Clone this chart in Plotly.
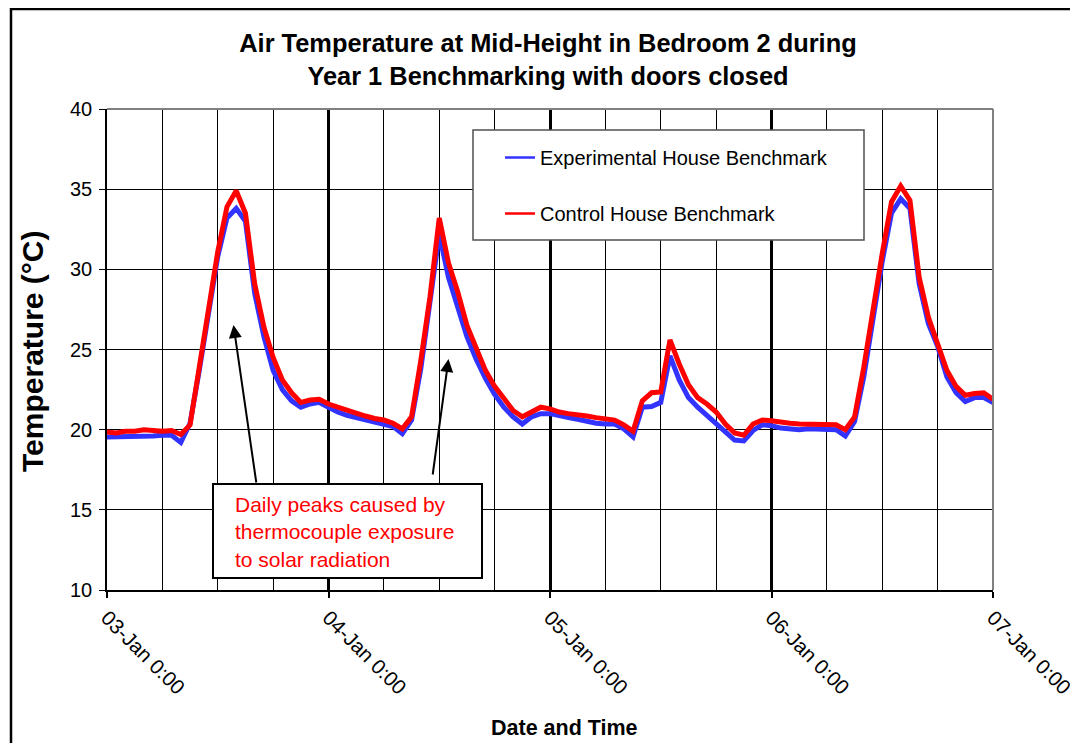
import plotly.graph_objects as go
import pandas as pd

# Hourly readings, 03-Jan 0:00 to 07-Jan 0:00 (97 samples)
start_time = "2005-01-03 00:00"
n_samples = 97

experimental = [
    19.55, 19.55, 19.6, 19.6, 19.6, 19.6, 19.65, 19.65, 19.2, 20.4, 23.7, 27.5,
    30.8, 33.2, 33.8, 33.0, 28.5, 25.8, 23.7, 22.5, 21.8, 21.4, 21.6, 21.7,
    21.4, 21.1, 20.9, 20.75, 20.6, 20.5, 20.35, 20.2, 19.75, 20.6, 23.8, 27.8,
    32.2, 29.5, 27.7, 25.8, 24.4, 23.2, 22.2, 21.4, 20.8, 20.35, 20.8, 21.0,
    21.0, 20.85, 20.75, 20.65, 20.5, 20.4, 20.35, 20.35, 20.05, 19.55, 21.4, 21.45,
    21.7, 24.6, 23.1, 22.0, 21.4, 20.9, 20.4, 19.8, 19.35, 19.3, 19.95, 20.3,
    20.25, 20.1, 20.05, 20.0, 20.05, 20.05, 20.0, 20.0, 19.6, 20.5, 23.3, 27.0,
    30.5, 33.5, 34.4, 33.8, 29.1, 26.6, 25.2, 23.3, 22.3, 21.75, 22.0, 22.0,
    21.7,
]

control = [
    19.85, 19.8, 19.9, 19.9, 20.0, 19.95, 19.9, 19.95, 19.7, 20.3, 24.0, 27.8,
    31.1, 33.9, 34.9, 33.5, 29.1, 26.4, 24.5, 23.1, 22.3, 21.7, 21.85, 21.9,
    21.6, 21.4, 21.2, 21.0, 20.85, 20.7, 20.6, 20.4, 20.05, 20.8, 24.3, 28.3,
    33.2, 30.4, 28.6, 26.5, 25.1, 23.7, 22.7, 21.9, 21.2, 20.8, 21.1, 21.4,
    21.3, 21.1, 21.0, 20.95, 20.85, 20.75, 20.65, 20.6, 20.3, 19.9, 21.8, 22.3,
    22.35, 25.6, 24.1, 22.8, 22.0, 21.6, 21.1, 20.35, 19.8, 19.65, 20.35, 20.6,
    20.55, 20.45, 20.4, 20.35, 20.35, 20.35, 20.3, 20.3, 20.0, 20.8, 23.9, 27.5,
    31.0, 34.2, 35.2, 34.3, 29.5, 27.0, 25.3, 23.7, 22.7, 22.15, 22.25, 22.3,
    21.9,
]

tick_vals = ["2005-01-03", "2005-01-04", "2005-01-05", "2005-01-06", "2005-01-07"]
tick_text = ["03-Jan 0:00", "04-Jan 0:00", "05-Jan 0:00", "06-Jan 0:00", "07-Jan 0:00"]

series_names = ["Experimental House Benchmark", "Control House Benchmark"]
series_colors = ["#3333FF", "#FF0000"]

times = pd.date_range(start_time, periods=n_samples, freq="h")

fig = go.Figure()
for vals, name, col in zip([experimental, control], series_names, series_colors):
    fig.add_trace(go.Scatter(x=times, y=vals, mode="lines", name=name,
                             line=dict(color=col, width=5), showlegend=False))
# legend entries (thin line samples, as in the reference)
for i, (name, col) in enumerate(zip(series_names, series_colors)):
    fig.add_trace(go.Scatter(x=[None], y=[None], mode="lines", name=name,
                             legendgroup=str(i),
                             line=dict(color=col, width=2.5)))

# page body has an 8px margin, so the figure is laid out 8px inside the window
OFF = 8
W, H = 1078 - OFF, 743 - OFF
PL, PR, PT, PB = 107, 993, 109, 590          # plot area in window coordinates
L, R, T, B = PL - OFF, W - (PR - OFF), PT - OFF, H - (PB - OFF)
pw, ph = PR - PL, PB - PT

def px(sx):
    return (sx - PL) / pw

def py(sy):
    return (PB - sy) / ph

font = "Liberation Sans, Arial, sans-serif"

fig.update_layout(
    width=W, height=H,
    margin=dict(l=L, r=R, t=T, b=B, autoexpand=False),
    paper_bgcolor="white", plot_bgcolor="white",
    font=dict(family=font, color="black", size=18),
    title=dict(text="<b>Air Temperature at Mid-Height in Bedroom 2 during<br>Year 1 Benchmarking with doors closed</b>",
               x=(548 - OFF) / W, xanchor="center", y=1 - (52 - OFF) / H, yanchor="middle",
               font=dict(size=25.4, family=font)),
    legend=dict(x=px(500), y=py(138), xanchor="left", yanchor="top",
                bgcolor="rgba(0,0,0,0)", borderwidth=0,
                font=dict(size=20, family=font),
                itemwidth=30, tracegroupgap=27),
    showlegend=True,
)

fig.update_xaxes(
    type="date",
    range=["2005-01-03 00:00", "2005-01-07 00:00"],
    tickvals=tick_vals, ticktext=tick_text, tickangle=45,
    ticks="outside", ticklen=6, tickcolor="black", tickwidth=1.5,
    showline=True, linecolor="black", linewidth=1.5,
    showgrid=True, gridcolor="black", gridwidth=2.5,
    minor=dict(dtick=6 * 3600 * 1000, showgrid=True, gridcolor="black", gridwidth=1, ticks=""),
    tickfont=dict(size=20.5), ticklabeloverflow="allow",
    zeroline=False, automargin=False,
)
fig.update_yaxes(
    range=[10, 40], dtick=5,
    ticks="outside", ticklen=6, tickcolor="black", tickwidth=1,
    showline=True, linecolor="black", linewidth=1.5,
    showgrid=True, gridcolor="black", gridwidth=1,
    tickfont=dict(size=20), ticklabelstandoff=3,
    zeroline=False, automargin=False,
)

shapes = [
    # top & right plot frame (grey)
    dict(type="line", xref="paper", yref="paper", x0=0, x1=1, y0=1, y1=1,
         line=dict(color="#808080", width=2), layer="above"),
    dict(type="line", xref="paper", yref="paper", x0=1, x1=1, y0=0, y1=1,
         line=dict(color="#808080", width=2), layer="above"),
    # legend box
    dict(type="rect", xref="paper", yref="paper", x0=px(473), x1=px(864), y0=py(240), y1=py(130),
         fillcolor="white", line=dict(color="#505050", width=1.5), layer="above"),
    # annotation box
    dict(type="rect", xref="paper", yref="paper", x0=px(213), x1=px(482), y0=py(578), y1=py(484),
         fillcolor="white", line=dict(color="black", width=2), layer="above"),
    # outer chart border
    dict(type="rect", xref="paper", yref="paper", x0=px(11), x1=px(1090), y0=py(760), y1=py(9),
         fillcolor="rgba(0,0,0,0)", line=dict(color="black", width=2.5), layer="above"),
]
fig.update_layout(shapes=shapes)

# axis titles
fig.add_annotation(xref="paper", yref="paper", x=px(564), y=py(728), xanchor="center", yanchor="middle",
                   text="<b>Date and Time</b>", showarrow=False, font=dict(size=21.5, family=font))
fig.add_annotation(xref="paper", yref="paper", x=px(32), y=py(352), xanchor="center", yanchor="middle",
                   text="<b>Temperature (°C)</b>", textangle=-90, showarrow=False,
                   font=dict(size=30, family=font))

# callout
fig.add_annotation(
    xref="paper", yref="paper", x=px(233), y=py(532), xanchor="left", yanchor="middle",
    text="Daily peaks caused by<br>thermocouple exposure<br>to solar radiation",
    align="left", showarrow=False, font=dict(color="#FF0000", size=21, family=font),
)
fig.add_annotation(
    xref="paper", yref="paper", x=px(233.5), y=py(325), text="", showarrow=True,
    ax=23, ay=159, arrowhead=2, arrowsize=1.3, arrowwidth=2, arrowcolor="black",
)
fig.add_annotation(
    xref="paper", yref="paper", x=px(448.5), y=py(359), text="", showarrow=True,
    ax=-16, ay=117, arrowhead=2, arrowsize=1.3, arrowwidth=2, arrowcolor="black",
)

fig.write_html("out.html")
